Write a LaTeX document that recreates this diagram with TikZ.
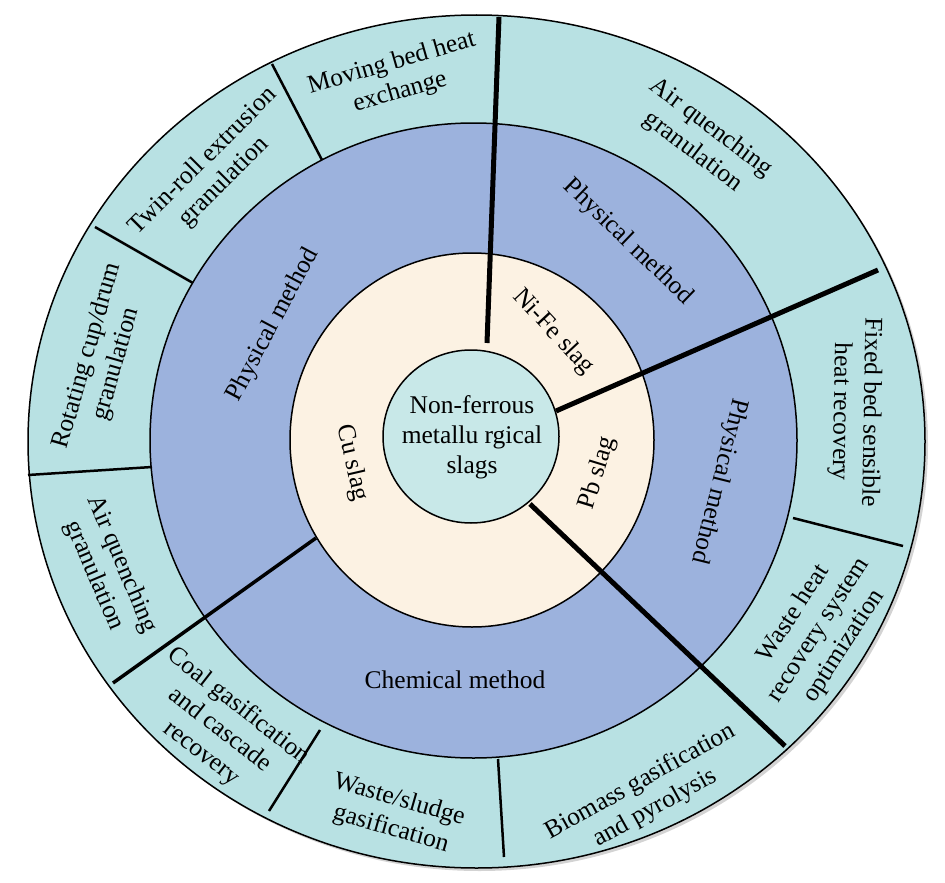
\documentclass[tikz,border=0pt]{standalone}
\usepackage{fontspec}
\setmainfont{Liberation Serif}
\usetikzlibrary{shadows}
\definecolor{outerring}{HTML}{B8E1E3}
\definecolor{methodring}{HTML}{9CB2DD}
\definecolor{slagring}{HTML}{FCF2E3}
\definecolor{corefill}{HTML}{C8E8E8}

\begin{document}
\begin{tikzpicture}
    [x=1pt,y=-1pt,
     lbl/.style={align=center,inner sep=0,
                 font=\fontsize{25.5}{30}\selectfont},
     rim/.style={draw=black,line width=1.5pt},
     bigcut/.style={line width=5pt},
     midcut/.style={line width=3.5pt},
     cut/.style={line width=2.5pt}]
    \useasboundingbox (0,0) rectangle (945,883);

    % rings, outside in
    \fill[rim,fill=outerring,drop shadow={opacity=0.35,shadow xshift=3pt,shadow yshift=-3pt}]
        (476.5,441.5) ellipse [x radius=448.5pt,y radius=426.5pt];
    \filldraw[rim,fill=methodring] (473.5,440.5) ellipse [x radius=323.5pt,y radius=317.5pt];
    \filldraw[rim,fill=slagring] (472,440) ellipse [x radius=182pt,y radius=187pt];
    \filldraw[rim,fill=corefill] (471,436.5) ellipse [x radius=88pt,y radius=86.5pt];

    % main dividers
    \coordinate (nifeIn) at (487,343);  \coordinate (nifeOut) at (499,17);
    \coordinate (pbIn) at (556,411);    \coordinate (pbOut) at (878,270);
    \coordinate (chemIn) at (530,504);  \coordinate (chemOut) at (785,746);
    \coordinate (cuIn) at (316,538);    \coordinate (cuOut) at (113,683);
    \draw[bigcut] (nifeIn) -- (nifeOut);
    \draw[bigcut] (pbIn) -- (pbOut);
    \draw[bigcut] (chemIn) -- (chemOut);
    \draw[midcut] (cuIn) -- (cuOut);

    % outer ring separators
    \foreach \a/\b in {{(322,160)}/{(272,64)},{(193,283)}/{(95,227)},
                       {(152,467)}/{(28,475)},{(320,730)}/{(269,811)},
                       {(498,759)}/{(504,857)},{(793,518)}/{(903,546)}}
        \draw[cut] \a -- \b;

    % centre and slags
    \node[lbl] (core) at (472,437) {Non-ferrous\\metallu rgical\\slags};
    \node[lbl,rotate=-47] (nife) at (553,332) {Ni-Fe slag};
    \node[lbl,rotate=73] (pb) at (598,473) {Pb slag};
    \node[lbl,rotate=-77] (cu) at (352,463) {Cu slag};

    % methods
    \node[lbl,rotate=62] (phyleft) at (273,325) {Physical method};
    \node[lbl,rotate=-44] (phytop) at (628,242) {Physical method};
    \node[lbl,rotate=-104] (phyright) at (719,481) {Physical method};
    \node[lbl] (chem) at (455,680) {Chemical method};

    % technologies
    \node[lbl,rotate=16] (moving) at (396,78) {Moving bed heat\\exchange};
    \node[lbl,rotate=45] (twin) at (214,172) {Twin-roll extrusion\\granulation};
    \node[lbl,rotate=74] (rotcup) at (102,360) {Rotating cup/drum\\granulation};
    \node[lbl,rotate=-67] (airleft) at (108,570) {Air quenching\\granulation};
    \node[lbl,rotate=-38] (coal) at (220,730) {Coal gasification\\and cascade\\recovery};
    \node[lbl,rotate=-16] (waste) at (395,815) {Waste/sludge\\gasification};
    \node[lbl,rotate=29] (biomass) at (648,795) {Biomass gasification\\and pyrolysis};
    \node[lbl,rotate=57] (wasteheat) at (819,630) {Waste heat\\recovery system\\optimization};
    \node[lbl,rotate=-91] (fixed) at (855,412) {Fixed bed sensible\\heat recovery};
    \node[lbl,rotate=-37] (airtop) at (702,140) {Air quenching\\granulation};
\end{tikzpicture}
\end{document}
